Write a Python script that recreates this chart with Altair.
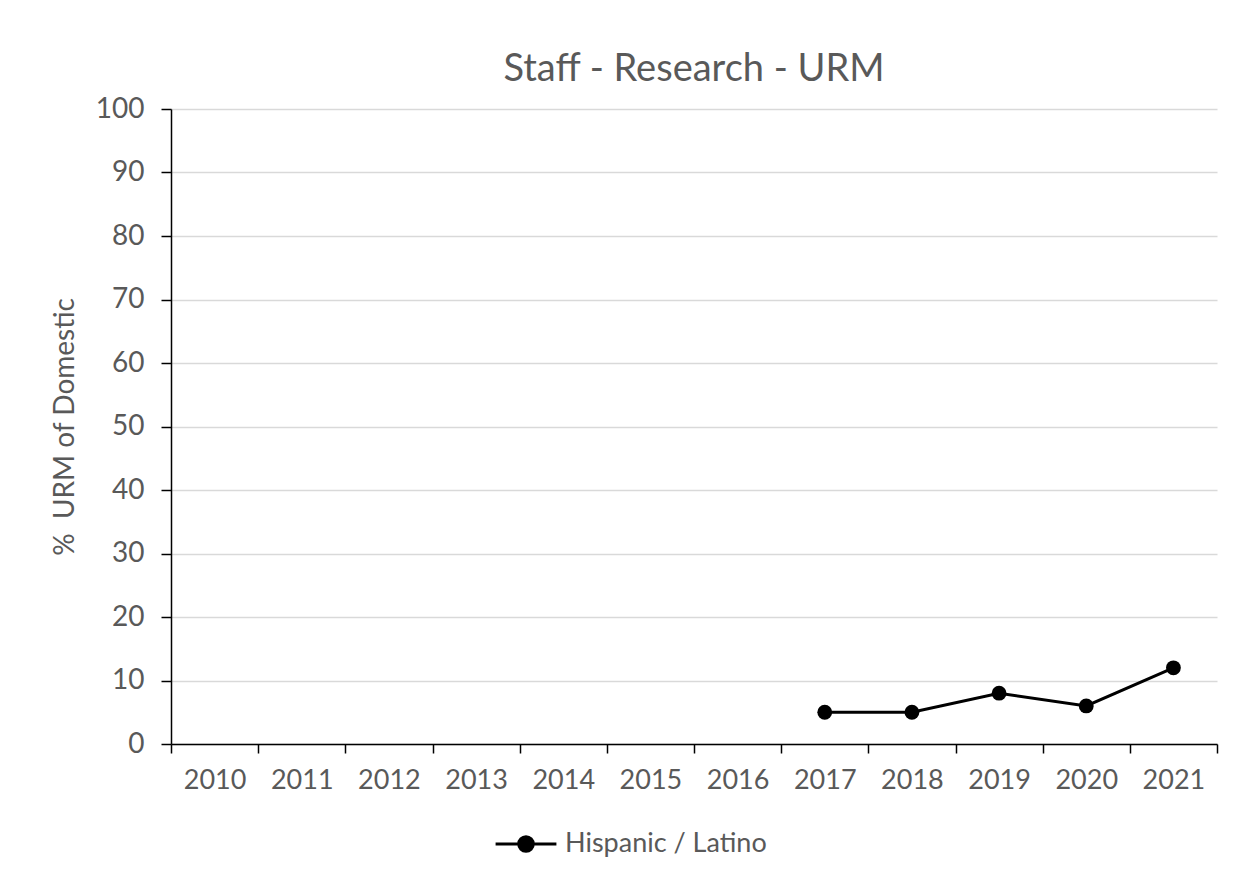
import altair as alt
import pandas as pd

years = [2010, 2011, 2012, 2013, 2014, 2015, 2016, 2017, 2018, 2019, 2020, 2021]
data_years = [2017, 2018, 2019, 2020, 2021]
values = [5, 5, 8, 6, 12]
series = "Hispanic / Latino"
y_ticks = [0, 10, 20, 30, 40, 50, 60, 70, 80, 90, 100]

df = pd.DataFrame({"year": data_years, "value": values, "series": [series] * len(values)})
edges = [y - 0.5 for y in years] + [years[-1] + 0.5]

W, H = 1046, 635
band = W / len(years)
font = "Lato"
grey = "#595959"

legend_symbol = "M-1,0H1M-0.24,0A0.24,0.24,0,1,1,0.24,0A0.24,0.24,0,1,1,-0.24,0Z"

chart = alt.Chart(df).mark_line(
    color="black", strokeWidth=3,
    point=alt.OverlayMarkDef(filled=True, size=220, color="black")
).encode(
    x=alt.X("year:Q",
            scale=alt.Scale(domain=[edges[0], edges[-1]], nice=False, zero=False),
            axis=alt.Axis(values=edges, title=None, grid=False,
                          labelExpr="datum.value > 2021 ? '' : format(datum.value + 0.5, 'd')",
                          labelOffset=band / 2, labelOverlap=False, labelBound=False,
                          labelFlush=False, labelFont=font, labelFontSize=27,
                          labelColor=grey, labelPadding=14,
                          domainColor="black", domainWidth=1.5,
                          tickColor="black", tickSize=9, tickWidth=1.5)),
    y=alt.Y("value:Q",
            scale=alt.Scale(domain=[0, 100], nice=False),
            axis=alt.Axis(values=y_ticks, title="%\u00a0 URM of Domestic",
                          titleFont=font, titleFontSize=28, titleFontWeight="normal",
                          titleColor=grey, titlePadding=16,
                          labelFont=font, labelFontSize=28, labelColor=grey, labelPadding=17,
                          domainColor="black", domainWidth=1.5,
                          tickColor="black", tickSize=10, tickWidth=1.5,
                          gridColor="#d9d9d9", gridWidth=1.5)),
    color=alt.Color("series:N", scale=alt.Scale(range=["black"]),
                    legend=alt.Legend(title=None, orient="none", legendX=323, legendY=703,
                                      symbolType=legend_symbol, symbolSize=3700,
                                      symbolStrokeWidth=3, symbolFillColor="black",
                                      symbolStrokeColor="black", labelLimit=500,
                                      labelFont=font, labelFontSize=27, labelColor=grey,
                                      labelOffset=7)),
).properties(
    width=W, height=H,
    title=alt.TitleParams("Staff - Research - URM", font=font, fontSize=38,
                          fontWeight="normal", color=grey, anchor="middle", offset=6),
    autosize=alt.AutoSizeParams(type="none"),
    padding={"left": 163, "top": 101, "right": 25, "bottom": 135},
).configure_view(stroke=None)

chart.save("out.html", embed_options={"renderer": "svg", "actions": False})
